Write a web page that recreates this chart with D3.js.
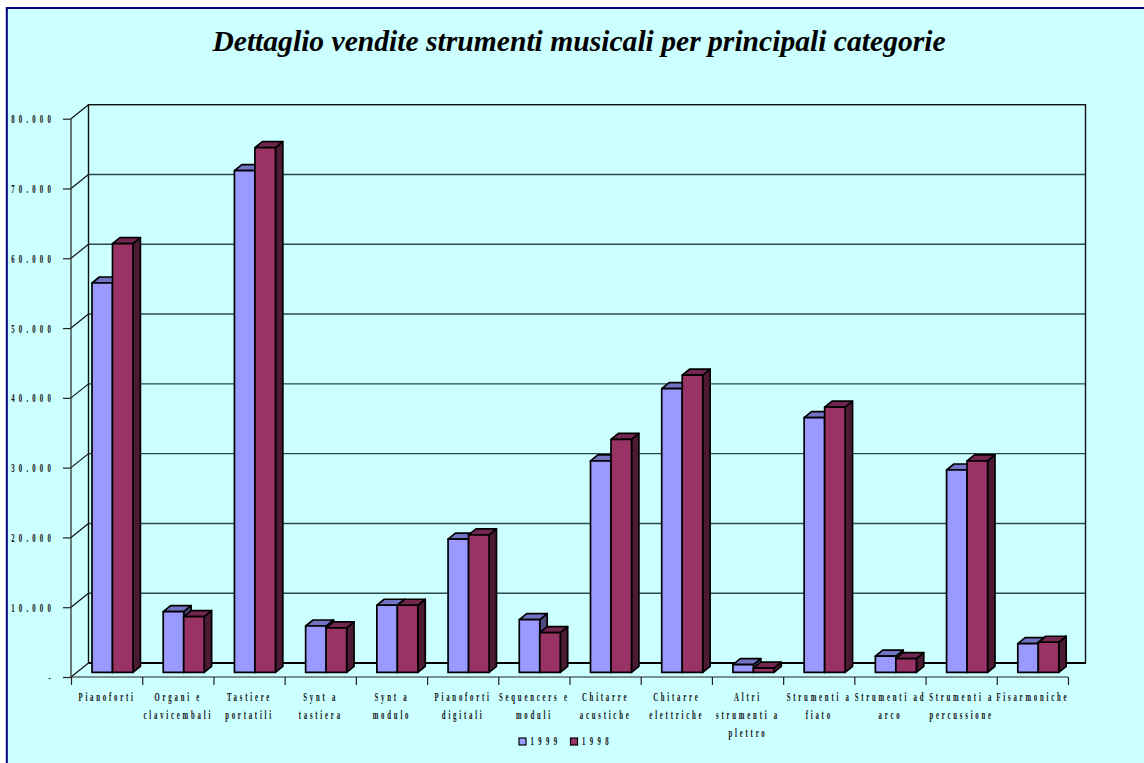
<!DOCTYPE html>
<html>
<head>
<meta charset="utf-8">
<script src="https://cdn.jsdelivr.net/npm/d3@7/dist/d3.min.js"></script>
<style>
  html, body { margin: 0; padding: 0; background: #fff; overflow: hidden; }
  svg { display: block; }
  text { font-family: "Liberation Serif", "Times New Roman", serif; fill: #000; }
  .title { font-size: 29.6px; font-weight: bold; font-style: italic; }
  .lbl { font-size: 13.5px; font-weight: bold; letter-spacing: 5.6px; fill: #111; }
  .tick-lbl { letter-spacing: 8.4px; }
  .leg-lbl { letter-spacing: 8.8px; }
  .axis path { display: none; }
  .axis line { stroke: #222; stroke-width: 1.2; }
</style>
</head>
<body>
<svg id="chart" width="1144" height="763"></svg>
<script>
const titleText = "Dettaglio vendite strumenti musicali per principali categorie";
const categories = [
  "Pianoforti", "Organi e\nclavicembali", "Tastiere\nportatili", "Synt a\ntastiera",
  "Synt a\nmodulo", "Pianoforti\ndigitali", "Sequencers e\nmoduli", "Chitarre\nacustiche",
  "Chitarre\nelettriche", "Altri\nstrumenti a\nplettro", "Strumenti a\nfiato",
  "Strumenti ad\narco", "Strumenti a\npercussione", "Fisarmoniche"
];
const seriesNames = ["1999", "1998"];
const values1999 = [55800, 8700, 71900, 6650, 9620, 19100, 7560, 30300, 40650, 1120, 36500, 2320, 29000, 4120];
const values1998 = [61450, 8000, 75200, 6370, 9620, 19700, 5700, 33400, 42600, 600, 38000, 1980, 30300, 4320];
const yTicks = [0, 10000, 20000, 30000, 40000, 50000, 60000, 70000, 80000];

const colors = {
  "1999": { front: "#9999ff", top: "#7373c4", side: "#4d4d80" },
  "1998": { front: "#993366", top: "#732650", side: "#4d1a33" }
};

const svg = d3.select("#chart");

// panel
svg.append("rect").attr("x", 6.8).attr("y", 8).attr("width", 1150).attr("height", 770)
  .attr("fill", "#ccffff").attr("stroke", "#000080").attr("stroke-width", 2);

svg.append("text").attr("class", "title").attr("x", 579).attr("y", 51)
  .attr("text-anchor", "middle").text(titleText);

// scales, front plane of the 3d box
const x = d3.scaleBand().domain(categories).range([71, 1068]);
const xTick = d3.scaleLinear().domain([0, categories.length]).range([71, 1068]);
const y = d3.scaleLinear().domain([0, 80000]).range([677, 118.7]);
const inner = d3.scaleBand().domain(seriesNames).range([21, 62]);

const wallDx = 17.5, wallDy = -14;   // back wall offset
const barShiftY = -4.6;              // bars stand a bit inside the floor
const depthX = 7.4, depthY = -6;

// walls and gridlines
const wall = svg.append("g").attr("fill", "none").attr("stroke", "#111");
yTicks.slice(1, -1).forEach((t) => {
  wall.append("line")
    .attr("x1", 71 + wallDx).attr("x2", 1068 + wallDx)
    .attr("y1", y(t) + wallDy).attr("y2", y(t) + wallDy)
    .attr("stroke", "#2a4a4a").attr("stroke-width", 1.4);
});
wall.append("rect")
  .attr("x", 71 + wallDx).attr("y", y(80000) + wallDy)
  .attr("width", 1068 - 71).attr("height", y(0) - y(80000))
  .attr("stroke-width", 1.4);
wall.append("line")
  .attr("x1", 71 + wallDx).attr("x2", 1068 + wallDx)
  .attr("y1", y(0) + wallDy).attr("y2", y(0) + wallDy)
  .attr("stroke", "#000").attr("stroke-width", 2);
yTicks.forEach((t) => {
  wall.append("line")
    .attr("x1", 71).attr("y1", y(t))
    .attr("x2", 71 + wallDx).attr("y2", y(t) + wallDy)
    .attr("stroke-width", 1.2);
});

// axes
const fmt = (d) => d === 0 ? "-" : d3.format(",")(d).replace(",", ".");
const yAxis = svg.append("g").attr("class", "axis").attr("transform", "translate(71,0)")
  .call(d3.axisLeft(y).tickValues(yTicks).tickSize(8).tickPadding(0).tickFormat(""));
yAxis.append("line").attr("x1", 0).attr("x2", 0).attr("y1", y(80000)).attr("y2", y(0));

const xAxis = svg.append("g").attr("class", "axis").attr("transform", `translate(0,${y(0)})`)
  .call(d3.axisBottom(xTick).tickValues(d3.range(categories.length + 1)).tickSize(8).tickFormat(""));
xAxis.append("line").attr("x1", 71).attr("x2", 1068).attr("y1", 0).attr("y2", 0)
  .attr("stroke", "#2a4a4a");

// squashed, widely spaced label like the original
function squashed(parent, px, py, str, anchor, cls) {
  return parent.append("text").attr("class", "lbl " + (cls || ""))
    .attr("transform", `translate(${px},${py}) scale(0.5,1)`)
    .attr("text-anchor", anchor).text(str);
}

yTicks.forEach((t) => squashed(svg, 55, y(t) + 4.5, fmt(t), "end", "tick-lbl"));

categories.forEach((c) => {
  c.split("\n").forEach((line, i) => {
    squashed(svg, x(c) + x.bandwidth() / 2 + 0.5, 700.5 + i * 18, line, "middle");
  });
});

// bars
const barWidth = inner.bandwidth();
const rows = categories.map((c, i) => ({ c, v: [values1999[i], values1998[i]] }));
const base = y(0) + barShiftY;
const groups = svg.selectAll(".cat").data(rows).join("g").attr("class", "cat");

seriesNames.forEach((s, si) => {
  const marks = groups.append("g")
    .attr("stroke", "#000").attr("stroke-width", 1.7).attr("stroke-linejoin", "round");
  const left = (d) => x(d.c) + inner(s);
  const topY = (d) => y(d.v[si]) + barShiftY;
  const pts = (arr) => arr.map((p) => p.join(",")).join(" ");

  marks.append("polygon").attr("fill", colors[s].side).attr("points", (d) => pts([
    [left(d) + barWidth, topY(d)],
    [left(d) + barWidth + depthX, topY(d) + depthY],
    [left(d) + barWidth + depthX, base + depthY],
    [left(d) + barWidth, base]
  ]));
  marks.append("polygon").attr("fill", colors[s].top).attr("points", (d) => pts([
    [left(d), topY(d)],
    [left(d) + depthX, topY(d) + depthY],
    [left(d) + barWidth + depthX, topY(d) + depthY],
    [left(d) + barWidth, topY(d)]
  ]));
  marks.append("rect").attr("fill", colors[s].front)
    .attr("x", left).attr("y", topY)
    .attr("width", barWidth).attr("height", (d) => base - topY(d));
});

// legend
const legendX = d3.scalePoint().domain(seriesNames).range([519, 570.5]);
seriesNames.forEach((s) => {
  svg.append("rect").attr("x", legendX(s)).attr("y", 738).attr("width", 7).attr("height", 7)
    .attr("fill", colors[s].front).attr("stroke", "#000").attr("stroke-width", 1.2);
  squashed(svg, legendX(s) + 11.5, 745, s, "start", "leg-lbl");
});
</script>
</body>
</html>
